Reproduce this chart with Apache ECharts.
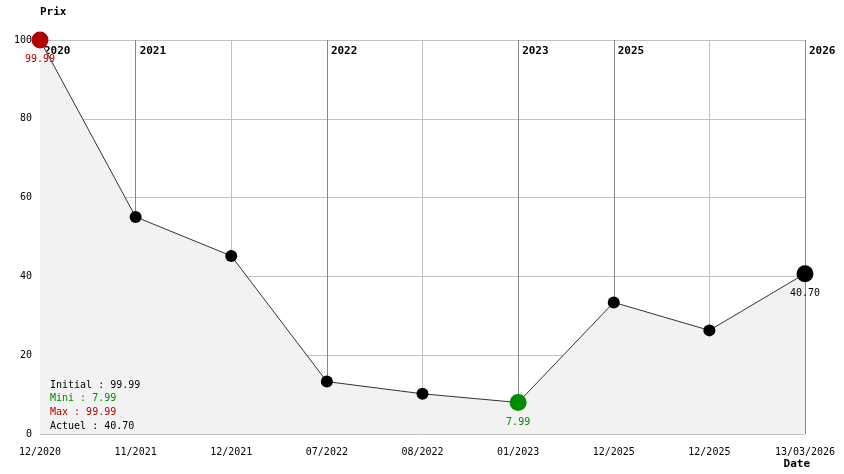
<!DOCTYPE html>
<html>
<head>
<meta charset="utf-8">
<script src="https://cdn.jsdelivr.net/npm/echarts@6/dist/echarts.min.js"></script>
<style>
  html, body { margin: 0; padding: 0; background: #fff; }
  #chart { width: 844px; height: 474px; }
</style>
</head>
<body>
<div id="chart"></div>
<script>
// dates et prix relevés
var dates = ["12/2020", "11/2021", "12/2021", "07/2022", "08/2022", "01/2023", "12/2025", "12/2025", "13/03/2026"];
var prices = [99.99, 55.1, 45.2, 13.3, 10.2, 7.99, 33.4, 26.3, 40.70];
var years = ["2020", "2021", "", "2022", "", "2023", "2025", "", "2026"];
var yTicks = [0, 20, 40, 60, 80, 100];

var FONT = "DejaVu Sans Mono";
var RED = "#b30000";
var GREEN = "#008c00";

var iMin = prices.indexOf(Math.min.apply(null, prices));
var iMax = prices.indexOf(Math.max.apply(null, prices));
var iLast = prices.length - 1;

var points = prices.map(function (v, i) {
  var p = { value: v };
  var color = null;
  if (i === iMax) color = RED;
  else if (i === iMin) color = GREEN;
  else if (i === iLast) color = "#000";
  if (color) {
    p.symbolSize = 17;
    p.itemStyle = { color: color };
    p.label = {
      show: true,
      position: "bottom",
      distance: 6,
      color: color,
      fontFamily: FONT,
      fontSize: 10,
      formatter: v.toFixed(2)
    };
  }
  return p;
});

// lignes verticales : foncées aux changements d'année
var vColors = years.map(function (y) { return y ? "#888888" : "#c0c0c0"; });

var chart = echarts.init(document.getElementById("chart"));
var option = {
  animation: false,
  grid: { left: 40, right: 39, top: 40, bottom: 40 },
  xAxis: [
    {
      type: "category",
      data: dates,
      boundaryGap: false,
      axisLine: { show: false },
      axisTick: { show: false },
      axisLabel: {
        interval: 0,
        color: "#000",
        fontFamily: FONT,
        fontSize: 10,
        margin: 13
      },
      splitLine: { show: true, interval: 0, lineStyle: { color: vColors, width: 1 } },
      name: "Date",
      nameLocation: "end",
      nameGap: 0,
      nameTextStyle: {
        color: "#000",
        fontFamily: FONT,
        fontSize: 11,
        fontWeight: "bold",
        align: "right",
        verticalAlign: "top",
        padding: [25, -5, 0, 0]
      }
    },
    {
      type: "category",
      data: dates,
      position: "top",
      boundaryGap: false,
      axisLine: { show: false },
      axisTick: { show: false },
      axisLabel: {
        inside: true,
        interval: 0,
        align: "left",
        margin: 6,
        padding: [0, 0, 0, 4],
        color: "#000",
        fontFamily: FONT,
        fontSize: 11,
        fontWeight: "bold",
        formatter: function (v, i) { return years[i]; }
      },
      splitLine: { show: false }
    }
  ],
  yAxis: {
    type: "value",
    min: yTicks[0],
    max: yTicks[yTicks.length - 1],
    interval: yTicks[1] - yTicks[0],
    axisLine: { show: false },
    axisTick: { show: false },
    axisLabel: { color: "#000", fontFamily: FONT, fontSize: 10, margin: 8 },
    splitLine: { lineStyle: { color: "#c0c0c0", width: 1 } },
    name: "Prix",
    nameLocation: "end",
    nameGap: 22,
    nameTextStyle: {
      color: "#000",
      fontFamily: FONT,
      fontSize: 11,
      fontWeight: "bold",
      align: "left"
    }
  },
  series: [
    {
      type: "line",
      xAxisIndex: 0,
      data: points,
      symbol: "circle",
      symbolSize: 12,
      itemStyle: { color: "#000" },
      lineStyle: { color: "#333", width: 1 },
      areaStyle: { color: "#f2f2f2", opacity: 1 },
      z: 3
    }
  ],
  graphic: [
    {
      type: "text",
      left: 50,
      top: 380,
      z: 10,
      style: {
        text: "{k|Initial : " + prices[0].toFixed(2) + "}\n" +
              "{g|Mini : " + prices[iMin].toFixed(2) + "}\n" +
              "{r|Max : " + prices[iMax].toFixed(2) + "}\n" +
              "{k|Actuel : " + prices[iLast].toFixed(2) + "}",
        rich: {
          k: { fill: "#000", fontFamily: FONT, fontSize: 10, lineHeight: 13.7 },
          g: { fill: GREEN, fontFamily: FONT, fontSize: 10, lineHeight: 13.7 },
          r: { fill: RED, fontFamily: FONT, fontSize: 10, lineHeight: 13.7 }
        }
      }
    }
  ]
};
chart.setOption(option);
</script>
</body>
</html>
